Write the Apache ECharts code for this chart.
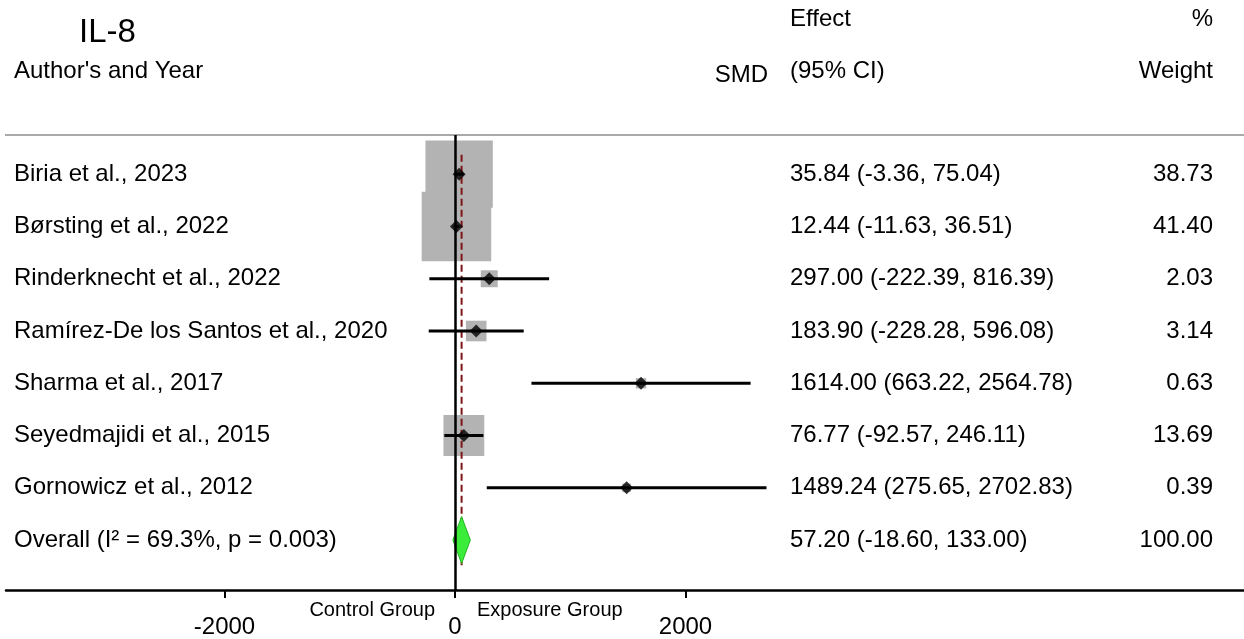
<!DOCTYPE html>
<html>
<head>
<meta charset="utf-8">
<script src="https://cdn.jsdelivr.net/npm/echarts@6/dist/echarts.min.js"></script>
<style>
  html, body { margin: 0; padding: 0; background: #fff; }
  #main { width: 1244px; height: 639px; }
</style>
</head>
<body>
<div id="main"></div>
<script>
// study rows, top to bottom
const studies = [
  'Biria et al., 2023',
  'Børsting et al., 2022',
  'Rinderknecht et al., 2022',
  'Ramírez-De los Santos et al., 2020',
  'Sharma et al., 2017',
  'Seyedmajidi et al., 2015',
  'Gornowicz et al., 2012'
]
const effects = [35.84, 12.44, 297.00, 183.90, 1614.00, 76.77, 1489.24]
const lowerCI = [-3.36, -11.63, -222.39, -228.28, 663.22, -92.57, 275.65]
const upperCI = [75.04, 36.51, 816.39, 596.08, 2564.78, 246.11, 2702.83]
const weights = [38.73, 41.40, 2.03, 3.14, 0.63, 13.69, 0.39]

const overallLabel = 'Overall (I² = 69.3%, p = 0.003)'
const overallEffect = 57.20
const overallLower = -18.60
const overallUpper = 133.00
const overallWeight = 100.00

const xTicks = [-2000, 0, 2000]

const FONT = "'Liberation Sans', Arial, sans-serif"
const overallRow = studies.length

// box side grows with sqrt of the weight, like Stata's forest plot
const boxSize = w => 10.5 * Math.sqrt(w) + 2

const chart = echarts.init(document.getElementById('main'))

const option = {
  animation: false,
  backgroundColor: '#fff',
  grid: { left: 6, right: 0, top: 135, bottom: 47 },
  xAxis: {
    type: 'value',
    min: -3896,
    max: 6846,
    axisLine: { show: true, onZero: false, lineStyle: { color: '#000', width: 2.5 } },
    axisTick: { show: true, customValues: xTicks, length: 8, lineStyle: { color: '#000', width: 2 } },
    axisLabel: {
      customValues: xTicks,
      fontSize: 24,
      color: '#000',
      fontFamily: FONT,
      margin: 25,
      formatter: v => String(v)
    },
    splitLine: { show: false }
  },
  yAxis: {
    type: 'value',
    inverse: true,
    min: -0.75,
    max: 7.955,
    show: false
  },
  series: [
    {
      // weight boxes
      type: 'custom',
      z: 1,
      silent: true,
      encode: { x: 0, y: 1 },
      data: effects.map((e, i) => [e, i, weights[i]]),
      renderItem: (params, api) => {
        const c = api.coord([api.value(0), api.value(1)])
        const s = boxSize(api.value(2))
        return {
          type: 'rect',
          shape: { x: c[0] - s / 2, y: c[1] - s / 2, width: s, height: s },
          style: { fill: '#b3b3b3' }
        }
      }
    },
    {
      // overall effect dashed line
      type: 'line',
      z: 2,
      silent: true,
      symbol: 'none',
      data: [[overallEffect, -0.37], [overallEffect, 7.48]],
      lineStyle: { color: '#7d1616', width: 2, type: [7, 4] }
    },
    {
      // overall diamond
      type: 'custom',
      z: 3,
      silent: true,
      encode: { x: [0, 1, 2], y: 3 },
      data: [[overallLower, overallEffect, overallUpper, overallRow]],
      renderItem: (params, api) => {
        const r = api.value(3)
        const pts = [
          api.coord([api.value(0), r]),
          api.coord([api.value(1), r - 0.45]),
          api.coord([api.value(2), r]),
          api.coord([api.value(1), r + 0.45])
        ]
        return {
          type: 'polygon',
          shape: { points: pts },
          style: { fill: '#3bec3b', stroke: '#22b522', lineWidth: 1 }
        }
      }
    },
    {
      // zero line
      type: 'line',
      z: 4,
      silent: true,
      data: [],
      markLine: {
        silent: true,
        symbol: 'none',
        label: { show: false },
        lineStyle: { color: '#000', width: 2.5, type: 'solid' },
        data: [{ xAxis: 0 }]
      }
    },
    {
      // confidence intervals
      type: 'custom',
      z: 5,
      silent: true,
      encode: { x: [0, 1], y: 2 },
      data: lowerCI.map((lo, i) => [lo, upperCI[i], i]),
      renderItem: (params, api) => {
        const a = api.coord([api.value(0), api.value(2)])
        const b = api.coord([api.value(1), api.value(2)])
        return {
          type: 'line',
          shape: { x1: a[0], y1: a[1], x2: b[0], y2: b[1] },
          style: { stroke: '#000', lineWidth: 3 }
        }
      }
    },
    {
      // point estimates
      type: 'scatter',
      z: 6,
      silent: true,
      symbol: 'diamond',
      symbolSize: 13,
      itemStyle: { color: '#000' },
      data: effects.map((e, i) => [e, i])
    }
  ]
}

chart.setOption(option)

// text columns, placed on the same rows as the marks
const rowY = i => chart.convertToPixel({ gridIndex: 0 }, [0, i])[1]
const txt = (text, x, y, size, align) => ({
  type: 'text',
  silent: true,
  style: {
    text, x, y,
    fontSize: size,
    fontFamily: FONT,
    fill: '#000',
    align: align || 'left',
    verticalAlign: 'middle'
  }
})
const fmt = v => v.toFixed(2)

const graphic = [
  {
    type: 'line',
    silent: true,
    shape: { x1: 5, y1: 135, x2: 1244, y2: 135 },
    style: { stroke: '#a9a9a9', lineWidth: 2 }
  },
  txt('IL-8', 79, 33, 33),
  txt("Author's and Year", 14, 71, 24),
  txt('SMD', 768, 75, 24, 'right'),
  txt('Effect', 790, 19, 24),
  txt('(95% CI)', 790, 71, 24),
  txt('%', 1213, 19, 24, 'right'),
  txt('Weight', 1213, 71, 24, 'right'),
  txt('Control Group', 435, 610, 20, 'right'),
  txt('Exposure Group', 477, 610, 20)
]
studies.forEach((s, i) => {
  const y = rowY(i)
  graphic.push(txt(s, 14, y, 24))
  graphic.push(txt(`${fmt(effects[i])} (${fmt(lowerCI[i])}, ${fmt(upperCI[i])})`, 790, y, 24))
  graphic.push(txt(fmt(weights[i]), 1213, y, 24, 'right'))
})
const oy = rowY(overallRow)
graphic.push(txt(overallLabel, 14, oy, 24))
graphic.push(txt(`${fmt(overallEffect)} (${fmt(overallLower)}, ${fmt(overallUpper)})`, 790, oy, 24))
graphic.push(txt(fmt(overallWeight), 1213, oy, 24, 'right'))

chart.setOption({ graphic })
</script>
</body>
</html>
